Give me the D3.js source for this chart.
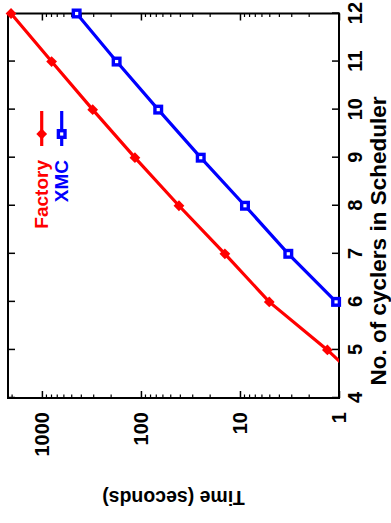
<!DOCTYPE html>
<html>
<head>
<meta charset="utf-8">
<script src="https://cdn.jsdelivr.net/npm/d3@7"></script>
<style>
  body { margin: 0; background: #fff; }
  text { font-family: "Liberation Sans", Arial, sans-serif; font-weight: bold; }
</style>
</head>
<body>
<div id="chart"></div>
<script>
// data
const factoryCyclers = [4, 5, 6, 7, 8, 9, 10, 11, 12];
const factoryTimes = [0.4, 1.31, 5.06, 14.2, 41.3, 115, 307, 798, 2050];
const xmcCyclers = [6, 7, 8, 9, 10, 11, 12];
const xmcTimes = [1.07, 3.25, 8.9, 24.9, 66.9, 176, 446];
const xTicks = [4, 5, 6, 7, 8, 9, 10, 11, 12];
const yTicks = [1, 10, 100, 1000];

const W = 391, H = 523;
// the plot is drawn in its normal orientation (H wide, W tall) and turned a quarter left
const plot = { left: 125, right: 509.5, top: 8, bottom: 339 };

const svg = d3.select('#chart')
    .append('svg')
    .attr('width', W)
    .attr('height', H);

const g = svg.append('g')
    .attr('transform', `translate(0,${H}) rotate(-90)`);

const x = d3.scaleLinear()
    .domain([4, 12])
    .range([plot.left, plot.right]);

const y = d3.scaleLog()
    .domain([1, 2200])
    .range([plot.bottom, plot.top]);

g.append('clipPath')
    .attr('id', 'clip')
    .append('rect')
    .attr('x', plot.left)
    .attr('y', plot.top)
    .attr('width', plot.right - plot.left)
    .attr('height', plot.bottom - plot.top);

// minor log ticks (2..9 per decade), both sides
const minor = y.ticks().filter(d => !yTicks.includes(d));
[plot.left, plot.right].forEach((px, i) => {
    const dir = i === 0 ? 1 : -1;
    g.append('g').selectAll('line.minor')
        .data(minor)
        .enter()
        .append('line')
        .attr('x1', px).attr('x2', px + dir * 3.5)
        .attr('y1', d => y(d)).attr('y2', d => y(d))
        .attr('stroke', '#000').attr('stroke-width', 1.2);
});

// X axis (cyclers) - bottom with labels, top mirrored
g.append('g')
    .attr('transform', `translate(0,${plot.bottom})`)
    .call(d3.axisBottom(x).tickValues(xTicks).tickSizeInner(-7).tickSizeOuter(0).tickPadding(9));
g.append('g')
    .attr('transform', `translate(0,${plot.top})`)
    .call(d3.axisTop(x).tickValues(xTicks).tickSizeInner(-7).tickSizeOuter(0).tickFormat(''));

// Y axis (time, log) - left with labels, right mirrored
g.append('g')
    .attr('transform', `translate(${plot.left},0)`)
    .call(d3.axisLeft(y).tickValues(yTicks).tickFormat(d3.format('d')).tickSizeInner(-7).tickSizeOuter(0).tickPadding(14));
g.append('g')
    .attr('transform', `translate(${plot.right},0)`)
    .call(d3.axisRight(y).tickValues(yTicks).tickSizeInner(-7).tickSizeOuter(0).tickFormat(''));

g.selectAll('.domain').remove();
g.selectAll('.tick line').attr('stroke', '#000').attr('stroke-width', 1.5);
g.selectAll('.tick text').attr('font-size', 20).attr('fill', '#000')
    .attr('font-family', '"Liberation Sans", Arial, sans-serif').attr('font-weight', 'bold');

// border
g.append('rect')
    .attr('x', plot.left).attr('y', plot.top)
    .attr('width', plot.right - plot.left).attr('height', plot.bottom - plot.top)
    .attr('fill', 'none').attr('stroke', '#000').attr('stroke-width', 2);

// axis labels
g.append('text')
    .attr('transform', `translate(32,${(plot.top + plot.bottom) / 2}) rotate(-90)`)
    .attr('text-anchor', 'middle')
    .attr('font-size', 19.5)
    .text('Time (seconds)');

g.append('text')
    .attr('x', 282)
    .attr('y', 386)
    .attr('text-anchor', 'middle')
    .attr('font-size', 22.5)
    .text('No. of cyclers in Scheduler');

const factory = factoryCyclers.map((c, i) => ({ c: c, t: factoryTimes[i] }));
const xmc = xmcCyclers.map((c, i) => ({ c: c, t: xmcTimes[i] }));

const line = d3.line()
    .x(d => x(d.c))
    .y(d => y(d.t));

g.append('path')
    .datum(factory)
    .attr('clip-path', 'url(#clip)')
    .attr('fill', 'none').attr('stroke', '#ff0000').attr('stroke-width', 3.2)
    .attr('d', line);

g.append('path')
    .datum(xmc)
    .attr('clip-path', 'url(#clip)')
    .attr('fill', 'none').attr('stroke', '#0000ff').attr('stroke-width', 3.2)
    .attr('d', line);

const diamond = d3.symbol().type(d3.symbolSquare).size(58);

function boxMark(sel, cx, cy, color) {
    sel.append('rect')
        .attr('x', cx - 3.3).attr('y', cy - 3.3)
        .attr('width', 6.6).attr('height', 6.6)
        .attr('fill', '#fff').attr('stroke', color).attr('stroke-width', 3.4);
}

g.append('g').selectAll('path')
    .data(factory.filter(d => d.t >= 1))
    .enter()
    .append('path')
    .attr('d', diamond)
    .attr('transform', d => `translate(${x(d.c)},${y(d.t)}) rotate(45)`)
    .attr('fill', '#ff0000');

const boxes = g.append('g');
xmc.filter(d => d.t >= 1).forEach(d => boxMark(boxes, x(d.c), y(d.t), '#0000ff'));

// key
const keyTextX = 363, lineX1 = 377, lineX2 = 412, markX = 389;
const keyRows = [
    { name: 'Factory', color: '#ff0000', yy: 41.7 },
    { name: 'XMC', color: '#0000ff', yy: 61.7 }
];
keyRows.forEach((k, i) => {
    g.append('text')
        .attr('x', keyTextX).attr('y', k.yy).attr('dy', '0.35em')
        .attr('text-anchor', 'end')
        .attr('font-size', 19)
        .attr('fill', k.color)
        .text(k.name);
    g.append('line')
        .attr('x1', lineX1).attr('x2', lineX2)
        .attr('y1', k.yy).attr('y2', k.yy)
        .attr('stroke', k.color).attr('stroke-width', 3.2);
    if (i === 0) {
        g.append('path')
            .attr('d', diamond)
            .attr('transform', `translate(${markX},${k.yy}) rotate(45)`)
            .attr('fill', k.color);
    } else {
        boxMark(g, markX, k.yy, k.color);
    }
});
</script>
</body>
</html>
